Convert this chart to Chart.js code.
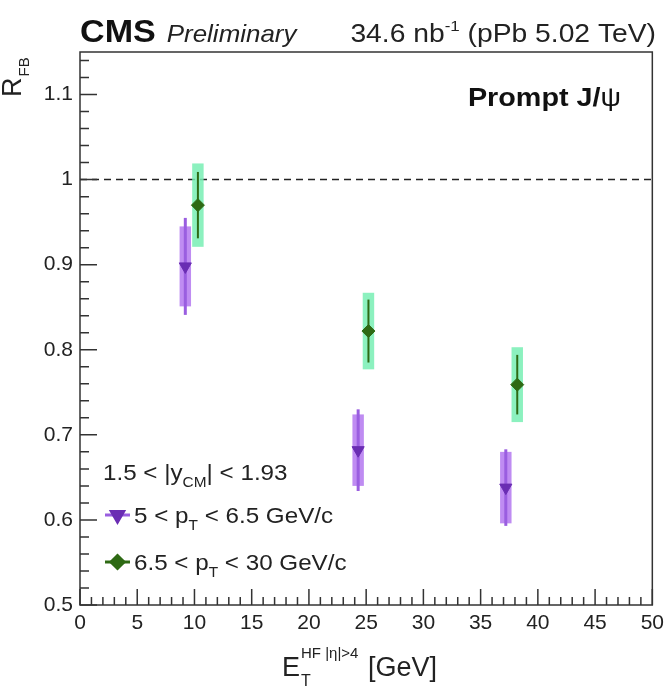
<!DOCTYPE html>
<html>
<head>
<meta charset="utf-8">
<script src="https://cdn.jsdelivr.net/npm/chart.js@4.4.1/dist/chart.umd.min.js"></script>
<style>
  body { margin: 0; background: #fff; }
  #wrap { width: 670px; height: 689px; }
</style>
</head>
<body>
<div id="wrap"><canvas id="rfb" width="670" height="689"></canvas></div>
<script>
// values
const purpleX = [9.2, 24.3, 37.2];
const purpleY = [0.898, 0.682, 0.638];
const purpleStat = [0.057, 0.048, 0.045];
const purpleSys = [0.047, 0.042, 0.042];

const greenX = [10.3, 25.2, 38.2];
const greenY = [0.970, 0.822, 0.759];
const greenStat = [0.039, 0.037, 0.035];
const greenSys = [0.049, 0.045, 0.044];

const xRange = [0, 50];
const yRange = [0.5, 1.15];
const xStep = 5, yStep = 0.1;
const refLine = 1;

const FONT = '"Liberation Sans", Arial, sans-serif';
const INK = '#222';
const boxHalf = 0.5; // GeV, half width of systematic boxes

function toPoints(xs, ys) {
    return xs.map((v, i) => ({ x: v, y: ys[i] }));
}

// draw a run of text pieces: [text, size, dy, weight/style], sx = horizontal stretch (ROOT text is wide)
function richText(ctx, x, y, parts, align, sx) {
    sx = sx || 1.1;
    let w = 0;
    parts.forEach(p => { ctx.font = (p[3] || '') + ' ' + p[1] + 'px ' + FONT; w += ctx.measureText(p[0]).width; });
    let cx = 0;
    ctx.save();
    ctx.translate(align === 'right' ? x - w * sx : x, y);
    ctx.scale(sx, 1);
    ctx.textAlign = 'left';
    ctx.textBaseline = 'alphabetic';
    parts.forEach(p => {
        ctx.font = (p[3] || '') + ' ' + p[1] + 'px ' + FONT;
        ctx.fillText(p[0], cx, p[2] || 0);
        cx += ctx.measureText(p[0]).width;
    });
    ctx.restore();
    return (align === 'right' ? x : x + w * sx);
}

const errorBars = {
    id: 'errorBars',
    beforeDatasetsDraw(chart) {
        const { ctx, scales: { x, y }, chartArea: a } = chart;
        ctx.save();
        // dashed reference line at 1
        ctx.strokeStyle = INK;
        ctx.lineWidth = 1.5;
        ctx.setLineDash([7, 5]);
        ctx.beginPath();
        ctx.moveTo(a.left, y.getPixelForValue(refLine));
        ctx.lineTo(a.right, y.getPixelForValue(refLine));
        ctx.stroke();
        ctx.setLineDash([]);
        // systematic boxes
        chart.data.datasets.forEach(ds => {
            ctx.fillStyle = ds.boxColor;
            ds.data.forEach((p, i) => {
                const x0 = x.getPixelForValue(p.x - boxHalf), x1 = x.getPixelForValue(p.x + boxHalf);
                const y0 = y.getPixelForValue(p.y + ds.sys[i]), y1 = y.getPixelForValue(p.y - ds.sys[i]);
                ctx.fillRect(x0, y0, x1 - x0, y1 - y0);
            });
        });
        // statistical bars
        chart.data.datasets.forEach(ds => {
            ctx.strokeStyle = ds.lineColor;
            ctx.lineWidth = ds.lineW;
            ds.data.forEach((p, i) => {
                const px = x.getPixelForValue(p.x);
                ctx.beginPath();
                ctx.moveTo(px, y.getPixelForValue(p.y + ds.stat[i]));
                ctx.lineTo(px, y.getPixelForValue(p.y - ds.stat[i]));
                ctx.stroke();
            });
        });
        ctx.restore();
    },
    afterDraw(chart) {
        const { ctx, scales: { x, y }, chartArea: a } = chart;
        ctx.save();
        // frame
        ctx.strokeStyle = '#333';
        ctx.lineWidth = 1.5;
        ctx.strokeRect(a.left, a.top, a.right - a.left, a.bottom - a.top);
        // inner ticks, ROOT style
        ctx.beginPath();
        for (let k = 0; k <= 50; k++) {
            const px = x.getPixelForValue(xRange[0] + k);
            const len = k % 5 === 0 ? 16 : 8;
            ctx.moveTo(px, a.bottom);
            ctx.lineTo(px, a.bottom - len);
        }
        for (let k = 0; k <= 32; k++) {
            const py = y.getPixelForValue(yRange[0] + k * 0.02);
            const len = k % 5 === 0 ? 17 : 9;
            ctx.moveTo(a.left, py);
            ctx.lineTo(a.left + len, py);
        }
        ctx.stroke();

        ctx.fillStyle = '#111';
        // header
        let e = richText(ctx, 80, 42, [['CMS', 31, 0, 'bold']]);
        ctx.fillStyle = '#222';
        richText(ctx, e + 11, 42, [['Preliminary', 24, 0, 'italic']], 'left', 1.08);
        richText(ctx, 656, 42, [['34.6 nb', 25], ['-1', 15, -11], [' (pPb 5.02 TeV)', 25]], 'right', 1.13);
        ctx.fillStyle = '#111';
        richText(ctx, 621, 106, [['Prompt J/', 25, 0, 'bold'], ['\u03c8', 25, 0]], 'right', 1.15);

        // legend
        ctx.fillStyle = '#222';
        richText(ctx, 103, 480, [['1.5 < |y', 22], ['CM', 14, 7], ['| < 1.93', 22]]);
        const legendRows = [[chart.data.datasets[0], 515, '5 < p', ' < 6.5 GeV/c'],
                            [chart.data.datasets[1], 562, '6.5 < p', ' < 30 GeV/c']];
        legendRows.forEach(r => {
            const ds = r[0], ly = r[1];
            ctx.strokeStyle = ds.lineColor;
            ctx.lineWidth = 3;
            ctx.beginPath();
            ctx.moveTo(105, ly); ctx.lineTo(130, ly);
            ctx.stroke();
            ctx.fillStyle = ds.pointBackgroundColor;
            ctx.strokeStyle = ds.pointBackgroundColor;
            Chart.helpers.drawPoint(ctx, { pointStyle: ds.pointStyle, radius: ds.pointRadius, rotation: ds.pointRotation || 0, borderWidth: 1 }, 117.5, ly);
            ctx.fillStyle = '#222';
            richText(ctx, 134, ly + 8, [[r[2], 22], ['T', 14, 7], [r[3], 22]]);
        });

        // x title
        ctx.font = '27px ' + FONT;
        ctx.textAlign = 'left';
        ctx.fillText('E', 282, 676);
        const ex = 282 + ctx.measureText('E').width;
        ctx.font = '16px ' + FONT;
        ctx.fillText('T', ex + 1, 686);
        ctx.font = '15px ' + FONT;
        ctx.fillText('HF |\u03b7|>4', ex + 1, 658);
        const sx = ex + 1 + ctx.measureText('HF |\u03b7|>4').width;
        ctx.font = '27px ' + FONT;
        ctx.fillText(' [GeV]', sx + 2, 676);

        // y title
        ctx.translate(21, 97);
        ctx.rotate(-Math.PI / 2);
        ctx.font = '27px ' + FONT;
        ctx.fillText('R', 0, 0);
        const rw = ctx.measureText('R').width;
        ctx.font = '15px ' + FONT;
        ctx.fillText('FB', rw + 1, 8);
        ctx.restore();
    }
};

new Chart(document.getElementById('rfb'), {
    type: 'scatter',
    data: {
        datasets: [{
            label: '5 < pT < 6.5 GeV/c',
            data: toPoints(purpleX, purpleY),
            stat: purpleStat,
            sys: purpleSys,
            boxColor: 'rgba(180,120,240,0.85)',
            lineColor: '#9a5ee0',
            lineW: 3,
            pointStyle: 'triangle',
            pointRotation: 180,
            pointRadius: 7,
            pointBackgroundColor: '#6a2db3',
            pointBorderColor: '#6a2db3',
            pointBorderWidth: 1
        }, {
            label: '6.5 < pT < 30 GeV/c',
            data: toPoints(greenX, greenY),
            stat: greenStat,
            sys: greenSys,
            boxColor: 'rgba(120,238,180,0.85)',
            lineColor: '#2e6a14',
            lineW: 2,
            pointStyle: 'rectRot',
            pointRadius: 6.5,
            pointBackgroundColor: '#2e6a14',
            pointBorderColor: '#2e6a14',
            pointBorderWidth: 1
        }]
    },
    options: {
        responsive: false,
        animation: false,
        layout: { padding: { top: 52, right: 15, left: 0, bottom: 0 } },
        plugins: { legend: { display: false }, tooltip: { enabled: false } },
        scales: {
            x: {
                type: 'linear', min: xRange[0], max: xRange[1],
                grid: { display: false, drawTicks: false },
                border: { display: false },
                ticks: { stepSize: xStep, padding: 6, color: '#222', font: { family: FONT, size: 21 }, maxRotation: 0 },
                afterFit(s) { s.height = 84; }
            },
            y: {
                type: 'linear', min: yRange[0], max: yRange[1],
                grid: { display: false, drawTicks: false },
                border: { display: false },
                ticks: {
                    stepSize: yStep, includeBounds: false, padding: 7, color: '#222',
                    font: { family: FONT, size: 21 },
                    callback: v => String(parseFloat(v.toFixed(2)))
                },
                afterFit(s) { s.width = 80; }
            }
        }
    },
    plugins: [errorBars]
});
</script>
</body>
</html>
